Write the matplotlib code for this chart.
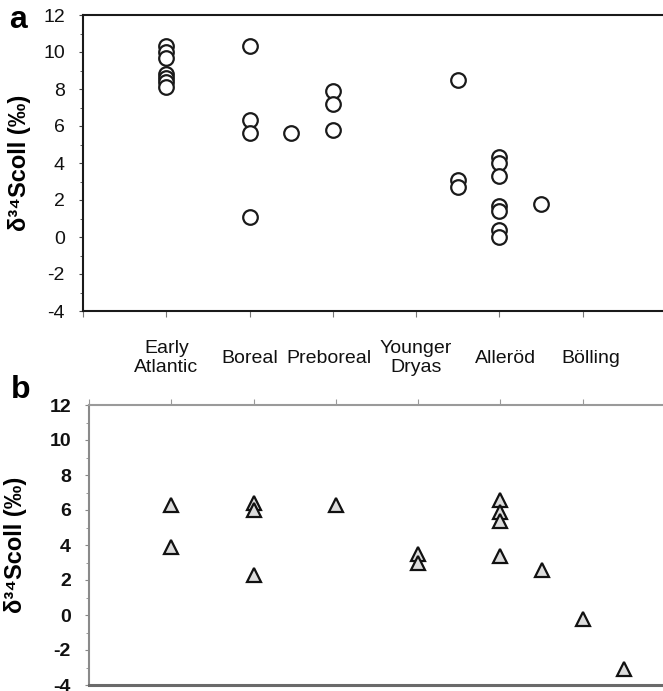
"""
Sulphur isotope (d34S collagen) values per climatic period, two panels.
Writes out.png
"""

import matplotlib
matplotlib.use('Agg')
import matplotlib.pyplot as plt
from matplotlib.ticker import MultipleLocator

plt.rcParams['font.family'] = ['Liberation Sans', 'DejaVu Sans']
plt.rcParams['axes.unicode_minus'] = False  # plain hyphen like the original

# period names under panel a and where they sit on the x axis
periods = ['Early\nAtlantic', 'Boreal', 'Preboreal', 'Younger\nDryas', 'Alleröd', 'Bölling']
period_x = [1, 2, 2.95, 4, 5.07, 6.1]

# panel a: circles
a_x = [1, 2, 2.5, 3, 4.5, 5, 5.5]
a_y = [[10.3, 10.0, 9.7, 8.8, 8.6, 8.4, 8.1],
       [10.3, 6.3, 5.6, 1.1],
       [5.6],
       [7.9, 7.2, 5.8],
       [8.5, 3.1, 2.7],
       [4.3, 4.0, 3.3, 1.7, 1.4, 0.4, 0.0],
       [1.8]]

# panel b: triangles
b_x = [1, 2, 3, 4, 5, 5.5, 6, 6.5]
b_y = [[6.3, 3.9],
       [6.4, 6.0, 2.3],
       [6.3],
       [3.5, 3.0],
       [6.6, 5.9, 5.4, 3.4],
       [2.6],
       [-0.2],
       [-3.1]]

ylabel = 'δ³⁴Scoll (‰)'


def flatten(xs, groups):
    px = [x for x, ys in zip(xs, groups) for _ in ys]
    py = [y for ys in groups for y in ys]
    return px, py


def style_yaxis(ax, color, bold):
    ax.set_ylim(-4, 12)
    ax.yaxis.set_major_locator(MultipleLocator(2))
    ax.yaxis.set_minor_locator(MultipleLocator(1))
    ax.tick_params(axis='y', which='major', direction='out', length=3, pad=10,
                   labelsize=14, color=color, labelcolor='#111111')
    ax.tick_params(axis='y', which='minor', direction='out', length=2, color=color)
    for lbl in ax.get_yticklabels():
        lbl.set_fontweight('bold' if bold else 'normal')


fig = plt.figure(figsize=(6.63, 6.91), dpi=100)

# ---- panel a ----
ax_a = fig.add_axes([83 / 663, 1 - 311 / 691, 583 / 663, 296 / 691])
px, py = flatten(a_x, a_y)
ax_a.plot(px, py, linestyle='none', marker='o', markersize=10.5,
          markerfacecolor='white', markeredgecolor='#1a1a1a', markeredgewidth=1.6,
          clip_on=False)
ax_a.set_xlim(0, 7)
ax_a.set_xticks(range(8))
ax_a.set_xticklabels([])
ax_a.tick_params(axis='x', direction='out', length=4, color='#777777')
ax_a.spines['right'].set_visible(False)
for s in ['top', 'left', 'bottom']:
    ax_a.spines[s].set_color('#1a1a1a')
    ax_a.spines[s].set_linewidth(1.5)
style_yaxis(ax_a, '#444444', False)
ax_a.set_ylabel(ylabel, fontsize=17, fontweight='bold')
ax_a.yaxis.set_label_coords(-0.089, 0.5)

for name, x in zip(periods, period_x):
    ax_a.text(x, -0.159, name, transform=ax_a.get_xaxis_transform(),
              ha='center', va='center', fontsize=14, linespacing=1.15,
              color='#111111')

# ---- panel b ----
ax_b = fig.add_axes([89 / 663, 1 - 685 / 691, 576 / 663, 280 / 691])
px, py = flatten(b_x, b_y)
ax_b.plot(px, py, linestyle='none', marker='^', markersize=10,
          markerfacecolor='#dcdcdc', markeredgecolor='#111111', markeredgewidth=1.6,
          clip_on=False)
ax_b.set_xlim(0, 7)
ax_b.set_xticks(range(8))
ax_b.set_xticklabels([])
ax_b.tick_params(axis='x', bottom=False, top=True, direction='out', length=4,
                 color='#999999')
ax_b.spines['right'].set_visible(False)
ax_b.spines['top'].set_color('#9a9a9a')
ax_b.spines['top'].set_linewidth(1.5)
ax_b.spines['left'].set_color('#8a8a8a')
ax_b.spines['left'].set_linewidth(1.5)
ax_b.spines['bottom'].set_color('#6a6a6a')
ax_b.spines['bottom'].set_linewidth(2.2)
style_yaxis(ax_b, '#888888', True)
ax_b.set_ylabel(ylabel, fontsize=17, fontweight='bold')
ax_b.yaxis.set_label_coords(-0.108, 0.5)

# panel letters
fig.text(0.014, 1 - 28 / 691, 'a', fontsize=23, fontweight='bold', va='baseline')
fig.text(0.017, 1 - 398 / 691, 'b', fontsize=23, fontweight='bold', va='baseline')

fig.savefig('out.png', dpi=100)
